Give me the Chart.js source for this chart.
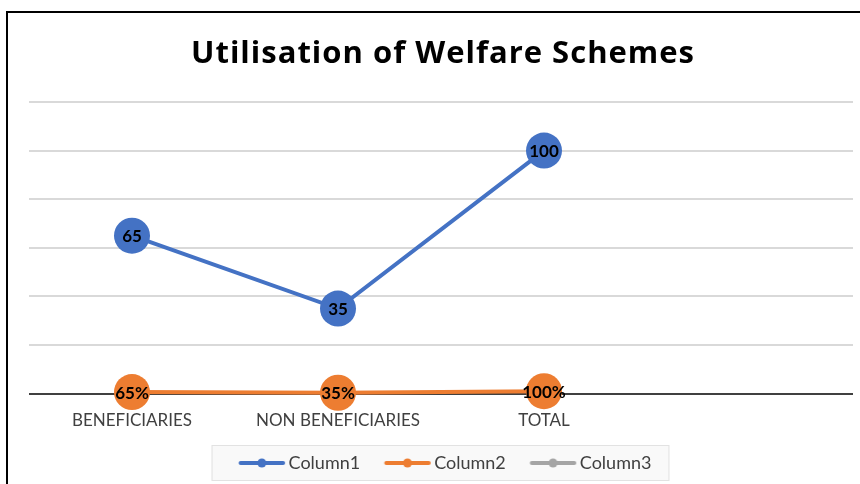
<!DOCTYPE html>
<html>
<head>
<title>Utilisation of Welfare Schemes</title>
<script src="https://cdn.jsdelivr.net/npm/chart.js"></script>
<style>
  html, body { margin: 0; padding: 0; background: #fff; }
  #wrap { position: relative; width: 860px; height: 484px; overflow: hidden; }
  #frame { position: absolute; left: 6px; top: 11px; width: 900px; height: 500px;
           border-left: 2px solid #000; border-top: 2px solid #000; }
  #myChart { position: absolute; left: 0; top: 0; }
</style>
</head>
<body>
<div id="wrap">
  <div id="frame"></div>
  <canvas id="myChart" width="860" height="484"></canvas>
</div>
<script>
// dane wykresu
const chartTitle = 'Utilisation of Welfare Schemes';
const categories = ['BENEFICIARIES', 'NON BENEFICIARIES', 'TOTAL', ''];
const column1 = [65, 35, 100, null];
const column2 = [0.65, 0.35, 1.00, null];
const column3 = [];
const yTicks = [0, 20, 40, 60, 80, 100, 120];

const BLUE = '#4472c4';
const ORANGE = '#ed7d31';
const GRAY = '#a5a5a5';
const FONT = 'Lato, "Open Sans", sans-serif';

// szerokosc pola na ikonke w legendzie
const ICON_BOX = 59;

// mala ikonka legendy: linia z kropka, przesunieta w prawo blisko tekstu
function legendIcon(color) {
  const c = document.createElement('canvas');
  c.width = 72; c.height = 12;
  const g = c.getContext('2d');
  const x0 = 24.5, x1 = 71;
  g.strokeStyle = color;
  g.lineWidth = 4;
  g.lineCap = 'round';
  g.beginPath();
  g.moveTo(x0 + 2, 6); g.lineTo(x1 - 2, 6);
  g.stroke();
  g.fillStyle = color;
  g.beginPath();
  g.arc((x0 + x1) / 2, 6, 4.5, 0, Math.PI * 2);
  g.fill();
  return c;
}

// tytul rysowany recznie (troche rozstrzelony)
const titlePlugin = {
  id: 'titlePlugin',
  afterDraw(chart) {
    const ctx = chart.ctx;
    ctx.save();
    ctx.font = 'bold 31px "Open Sans", "Noto Sans", sans-serif';
    if ('letterSpacing' in ctx) ctx.letterSpacing = '1px';
    ctx.fillStyle = '#000';
    ctx.textAlign = 'center';
    ctx.textBaseline = 'alphabetic';
    ctx.fillText(chartTitle, 443, 63);
    ctx.restore();
  }
};

// etykiety wartosci na punktach
const valueLabels = {
  id: 'valueLabels',
  afterDatasetsDraw(chart) {
    const ctx = chart.ctx;
    ctx.save();
    ctx.font = 'bold 17px ' + FONT;
    ctx.fillStyle = '#000';
    ctx.textAlign = 'center';
    ctx.textBaseline = 'middle';
    chart.data.datasets.forEach((ds, i) => {
      const meta = chart.getDatasetMeta(i);
      meta.data.forEach((pt, j) => {
        const v = ds.data[j];
        if (v === null || v === undefined) return;
        const txt = i === 1 ? Math.round(v * 100) + '%' : String(v);
        ctx.fillText(txt, pt.x, pt.y + 1);
      });
    });
    ctx.restore();
  }
};

// ramka legendy (+ lekkie przesuniecie legendy w lewo)
const legendBox = {
  id: 'legendBox',
  afterLayout(chart) {
    if (chart.legend) {
      chart.legend.left -= 5;
      chart.legend.right -= 5;
    }
  },
  beforeDraw(chart) {
    const boxes = chart.legend && chart.legend.legendHitBoxes;
    if (!boxes || !boxes.length) return;
    const left = Math.min(...boxes.map(b => b.left)) - 9;
    const right = Math.max(...boxes.map(b => b.left + b.width)) + 18;
    const top = boxes[0].top + boxes[0].height / 2 - 18;
    const h = 36;
    const ctx = chart.ctx;
    ctx.save();
    ctx.fillStyle = '#f9f9f9';
    ctx.strokeStyle = '#e2e2e2';
    ctx.lineWidth = 1;
    ctx.fillRect(left, top, right - left, h);
    ctx.strokeRect(left + 0.5, top + 0.5, right - left - 1, h - 1);
    ctx.restore();
  }
};

const ctx = document.getElementById('myChart');
new Chart(ctx, {
  type: 'line',
  data: {
    labels: categories,
    datasets: [
      { label: 'Column1', data: column1, borderColor: BLUE, backgroundColor: BLUE,
        borderWidth: 4, pointRadius: 18, pointHoverRadius: 18, pointBorderWidth: 0,
        clip: false },
      { label: 'Column2', data: column2, borderColor: ORANGE, backgroundColor: ORANGE,
        borderWidth: 4, pointRadius: 18, pointHoverRadius: 18, pointBorderWidth: 0,
        clip: false },
      { label: 'Column3', data: column3, borderColor: GRAY, backgroundColor: GRAY,
        borderWidth: 4, pointRadius: 18, pointBorderWidth: 0, clip: false }
    ]
  },
  options: {
    responsive: false,
    animation: false,
    layout: { autoPadding: false, padding: { left: 29, right: 7, top: 102, bottom: 2 } },
    plugins: {
      title: { display: false },
      legend: {
        position: 'bottom',
        labels: {
          usePointStyle: true,
          pointStyleWidth: ICON_BOX,
          generateLabels(chart) {
            return chart.data.datasets.map((ds, i) => ({
              text: ds.label,
              pointStyle: legendIcon(ds.borderColor),
              fillStyle: ds.borderColor,
              strokeStyle: ds.borderColor,
              lineWidth: 0,
              fontColor: '#404040',
              datasetIndex: i,
              hidden: false
            }));
          },
          color: '#404040',
          font: { family: FONT, size: 18 },
          padding: 6
        }
      },
      tooltip: { enabled: false }
    },
    scales: {
      x: {
        offset: true,
        grid: { display: false, drawTicks: false },
        border: { display: false },
        ticks: {
          color: '#404040',
          font: { family: FONT, size: 17 },
          padding: 17,
          maxRotation: 0,
          autoSkip: false
        }
      },
      y: {
        min: 0,
        max: 120,
        afterBuildTicks(axis) { axis.ticks = yTicks.map(v => ({ value: v })); },
        ticks: { display: false },
        border: { display: false },
        grid: {
          drawTicks: false,
          color: c => c.tick.value === 0 ? '#404040' : '#d9d9d9',
          lineWidth: 2
        }
      }
    }
  },
  plugins: [legendBox, valueLabels, titlePlugin]
});
</script>
</body>
</html>
